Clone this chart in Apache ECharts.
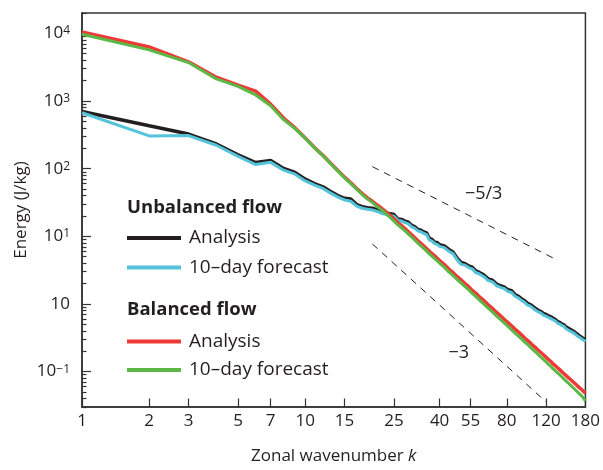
<!DOCTYPE html>
<html><head><meta charset="utf-8">
<script src="https://cdn.jsdelivr.net/npm/echarts@6/dist/echarts.min.js"></script>
<style>html,body{margin:0;padding:0;background:#fff}#c{width:603px;height:470px}</style>
</head><body><div id="c"></div>
<script>
// ---- axis ticks / labels ----
const xTicks = [1, 2, 3, 5, 7, 10, 15, 25, 40, 55, 80, 120, 180];
const yMajorTicks = [0.1, 1, 10, 100, 1000, 10000];
const yMajorLabels = ['10{s|−1}', '10', '10{s|1}', '10{s|2}', '10{s|3}', '10{s|4}'];
const yMinorTicks = [0.03, 0.04, 0.05, 0.06, 0.07, 0.08, 0.09,
  0.2, 0.3, 0.4, 0.5, 0.6, 0.7, 0.8, 0.9,
  2, 3, 4, 5, 6, 7, 8, 9,
  20, 30, 40, 50, 60, 70, 80, 90,
  200, 300, 400, 500, 600, 700, 800, 900,
  2000, 3000, 4000, 5000, 6000, 7000, 8000, 9000, 20000];

// ---- unbalanced flow ----
const kUnbal = [1,2,3,4,5,6,7,8,9,10,11,12,13,14,15,16,17,18,19,20,21,22,23,24,25,26,27,28,29,30,
  31,32,33,34,35,36,37,38,39,40,42,44,46,48,50,52,54,56,58,60,
  63,66,69,72,75,78,81,84,87,90,93,96,99,102,105,108,111,114,117,120,
  123,126,129,132,135,138,141,144,147,150,153,156,159,162,165,168,171,174,177,180];
const unbalAnalysis = [700,430,325,232,160,123,132,101,88,70,60,54,46,40,36.5,35.5,29.5,27.5,26.5,26,
  24.5,23,22.4,21.5,21,18,17.8,16.8,16.2,14.5,
  13.8,12.6,12.3,11.6,11.2,9.3,9.0,8.2,8.1,7.5,7.2,6.4,5.8,4.7,4.1,3.95,3.65,3.5,3.1,2.95,
  2.7,2.35,2.25,1.97,1.86,1.78,1.62,1.57,1.38,1.3,1.2,1.12,1.02,0.98,0.91,0.85,0.8,0.77,0.72,0.7,
  0.665,0.645,0.615,0.59,0.55,0.535,0.505,0.495,0.46,0.45,0.425,0.415,0.395,0.38,0.36,0.35,0.33,0.325,0.305,0.298];
const unbalForecast = [670,305,308,222,152,115,124,95,83,66,57,51,43.5,38,34.5,33,28,26,25.2,24.5,
  23.3,21.8,21.2,20.4,19.8,17.2,16.8,15.9,15.3,13.8,
  13.1,12,11.7,11,10.6,8.8,8.5,7.8,7.6,7.1,6.8,6.0,5.5,4.45,3.85,3.75,3.45,3.3,2.92,2.8,
  2.55,2.22,2.12,1.86,1.76,1.68,1.53,1.48,1.3,1.23,1.13,1.06,0.96,0.93,0.86,0.8,0.76,0.73,0.68,0.66,
  0.63,0.61,0.58,0.56,0.52,0.505,0.48,0.47,0.435,0.425,0.4,0.39,0.375,0.36,0.34,0.33,0.315,0.305,0.29,0.28];

// ---- balanced flow ----
const kBal = [1,2,3,4,5,6,7,8,9,10,11,12,13,14,15,16,17,18,19,20,21,22,23,24,25,26,27,28,29,30,
  32,34,36,38,40,42,44,46,48,50,52,54,56,58,60,
  63,66,69,72,75,78,81,84,87,90,93,96,99,102,105,108,111,114,117,120,
  123,126,129,132,135,138,141,144,147,150,153,156,159,162,165,168,171,174,177,180];
const balAnalysis = [10450,6300,3800,2250,1720,1400,900,560,400,285,205,158,120,94,75,62,51,43,37,33,
  29,26,23,20.5,18,16,14.4,13,11.7,10.5,
  8.6,7.2,6.0,5.15,4.4,3.82,3.28,2.9,2.53,2.26,2.0,1.8,1.59,1.45,1.3,
  1.13,0.975,0.86,0.75,0.67,0.59,0.53,0.475,0.425,0.387,0.35,0.317,0.29,0.266,0.242,0.224,0.205,0.19,0.176,0.163,
  0.151,0.141,0.13,0.122,0.114,0.107,0.1,0.094,0.0885,0.083,0.0785,0.074,0.07,0.066,0.0625,0.059,0.056,0.0535,0.0505,0.048];
const balForecast = [9700,5700,3700,2120,1650,1230,850,530,390,280,203,156,118,92,73,60,49.5,41.5,35.5,31.5,
  27.5,24.5,21.5,19,16.7,14.8,13.3,12,10.8,9.7,
  7.9,6.6,5.5,4.7,4.0,3.47,2.98,2.62,2.29,2.04,1.81,1.62,1.43,1.3,1.16,
  1.0,0.865,0.76,0.66,0.59,0.52,0.465,0.415,0.372,0.338,0.305,0.276,0.252,0.23,0.209,0.193,0.176,0.163,0.15,0.139,
  0.128,0.119,0.11,0.103,0.096,0.09,0.084,0.078,0.073,0.069,0.065,0.061,0.057,0.054,0.051,0.048,0.045,0.043,0.04,0.037];

// ---- reference slopes ----
const slope53K = [20, 130];
const slope53E = [107, 4.72];
const slope3K = [20, 120];
const slope3E = [7.7, 0.0356];
const annotK = [63, 48.7];
const annotE = [41.8, 0.187];
const annotText = ['−5/3', '−3'];

const seriesNames = ['Unbalanced analysis', 'Unbalanced forecast', 'Balanced analysis', 'Balanced forecast'];
const legendText = {'Unbalanced analysis': 'Analysis', 'Unbalanced forecast': '10–day forecast',
  'Balanced analysis': 'Analysis', 'Balanced forecast': '10–day forecast'};
const groupTitles = ['Unbalanced flow', 'Balanced flow'];

const ink = '#231f20';
const font = '"Open Sans", sans-serif';
function pairs(ks, es) { return ks.map((k, i) => [k, es[i]]); }

const chart = echarts.init(document.getElementById('c'));
const legendBase = {
  orient: 'vertical', left: 127, padding: 0, icon: 'rect', itemWidth: 54, itemHeight: 4,
  selectedMode: false, formatter: n => legendText[n],
  textStyle: {fontFamily: font, fontSize: 19, lineHeight: 22, color: ink, padding: [0, 0, 0, 3]}
};
chart.setOption({
  animation: false,
  grid: {left: 82, right: 17, top: 13, bottom: 60, show: true, borderColor: '#333', borderWidth: 1.5, backgroundColor: 'transparent'},
  xAxis: {
    type: 'log', logBase: 10, min: 1, max: 180,
    name: 'Zonal wavenumber {i|k}', nameLocation: 'middle', nameGap: 41,
    nameTextStyle: {fontFamily: font, fontSize: 17, color: ink,
      rich: {i: {fontFamily: font, fontSize: 17, fontStyle: 'italic', color: ink}}},
    axisLine: {show: true, lineStyle: {color: '#333', width: 1.5}},
    axisTick: {show: true, inside: true, length: 8.5, customValues: xTicks, lineStyle: {color: '#333', width: 1.2}},
    axisLabel: {customValues: xTicks, formatter: v => String(Math.round(v)), fontFamily: font, fontSize: 17, color: ink, margin: 6},
    splitLine: {show: false}, minorTick: {show: false}
  },
  yAxis: [{
    type: 'log', logBase: 10, min: 0.03, max: 20000, position: 'left',
    name: 'Energy (J/kg)', nameLocation: 'middle', nameGap: 52,
    nameTextStyle: {fontFamily: font, fontSize: 17, color: ink},
    axisLine: {show: true, lineStyle: {color: '#333', width: 1.5}},
    axisTick: {show: true, inside: true, length: 4.5, customValues: yMinorTicks, lineStyle: {color: '#333', width: 1.2}},
    axisLabel: {show: false},
    splitLine: {show: false}
  }, {
    type: 'log', logBase: 10, min: 0.03, max: 20000, position: 'left', offset: 0,
    axisLine: {show: false},
    axisTick: {show: true, inside: true, length: 9, customValues: yMajorTicks, lineStyle: {color: '#333', width: 1.2}},
    axisLabel: {customValues: yMajorTicks, margin: 12, fontFamily: font, fontSize: 17, color: ink,
      formatter: v => yMajorLabels[Math.round(Math.log10(v)) + 1],
      rich: {s: {fontFamily: font, fontSize: 12, color: ink, verticalAlign: 'top', lineHeight: 12}}},
    splitLine: {show: false}
  }],
  legend: [
    Object.assign({}, legendBase, {top: 227, itemGap: 7.4, data: seriesNames.slice(0, 2)}),
    Object.assign({}, legendBase, {top: 330.5, itemGap: 6.4, data: seriesNames.slice(2, 4)})
  ],
  graphic: groupTitles.map((t, i) => ({
    type: 'text', left: 127, top: i === 0 ? 198.5 : 300.5,
    style: {text: t, font: 'bold 18.5px ' + font, fill: ink}
  })),
  series: [
    {name: seriesNames[0], type: 'line', data: pairs(kUnbal, unbalAnalysis), symbol: 'none', color: ink, lineStyle: {width: 3.5}},
    {name: seriesNames[1], type: 'line', data: pairs(kUnbal, unbalForecast), symbol: 'none', color: '#55c4da', lineStyle: {width: 3}},
    {name: seriesNames[2], type: 'line', data: pairs(kBal, balAnalysis), symbol: 'none', color: '#ee3a36', lineStyle: {width: 3.5}},
    {name: seriesNames[3], type: 'line', data: pairs(kBal, balForecast), symbol: 'none', color: '#5bb846', lineStyle: {width: 3}},
    {name: 'slope53', type: 'line', data: pairs(slope53K, slope53E), symbol: 'none', silent: true,
      lineStyle: {color: ink, width: 1, type: [7, 6]}},
    {name: 'slope3', type: 'line', data: pairs(slope3K, slope3E), symbol: 'none', silent: true,
      lineStyle: {color: ink, width: 1, type: [7, 6]}},
    {name: 'annot', type: 'scatter', data: pairs(annotK, annotE), symbolSize: 0, silent: true,
      itemStyle: {color: ink, opacity: 1},
      label: {show: true, position: 'inside', formatter: p => annotText[p.dataIndex], fontFamily: font, fontSize: 18, color: ink, opacity: 1}}
  ]
});
</script>
</body></html>
